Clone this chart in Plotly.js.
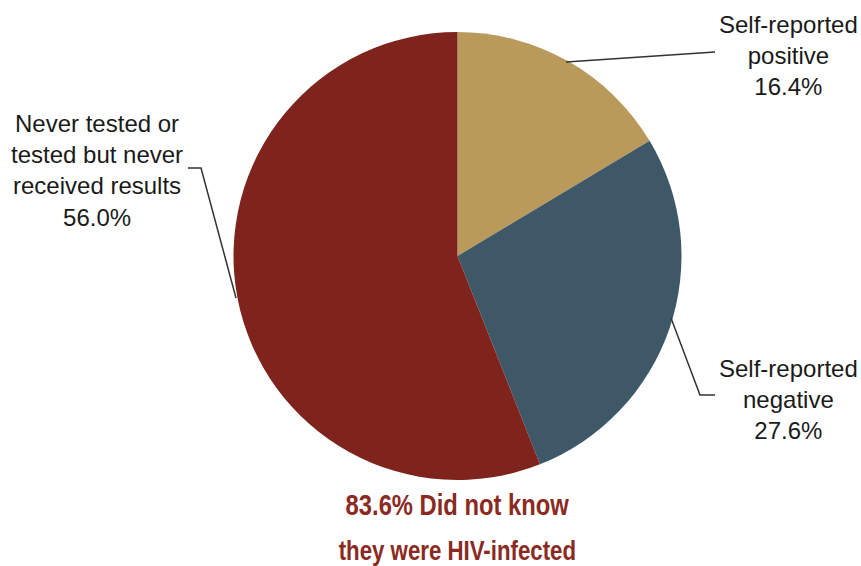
<!DOCTYPE html>
<html>
<head>
<meta charset="utf-8">
<script src="https://cdn.plot.ly/plotly-3.0.1.min.js"></script>
<style>html,body{margin:0;padding:0;background:#fff;}#chart{width:861px;height:566px;}</style>
</head>
<body>
<div id="chart"></div>
<script>
// Data
const categories = ["Self-reported positive", "Self-reported negative", "Never tested or tested but never received results"];
const values = [16.4, 27.6, 56.0];
const labelTexts = ["Self-reported<br>positive<br>16.4%", "Self-reported<br>negative<br>27.6%", "Never tested or<br>tested but never<br>received results<br>56.0%"];
const colors = ["#B99A5B", "#3E5868", "#7E241D"];
const noteLines = ["83.6% Did not know", "they were HIV-infected"];

const W = 861, H = 566;
const px = x => x / W;
const py = y => 1 - y / H;

const trace = {
  type: "pie",
  labels: categories,
  values: values,
  sort: false,
  direction: "clockwise",
  rotation: 0,
  textinfo: "none",
  hoverinfo: "label+percent",
  marker: {colors: colors, line: {width: 0}},
  domain: {x: [px(233), px(682)], y: [py(480), py(32)]},
  showlegend: false
};

const labelFont = {family: "Liberation Sans, Arial, sans-serif", size: 24, color: "#1a1a1a"};
const noteFont1 = {family: "Liberation Sans, Arial, sans-serif", size: 29, color: "#8A2A22", weight: "bold"};
const noteFont2 = {family: "Liberation Sans, Arial, sans-serif", size: 28, color: "#8A2A22", weight: "bold"};

const annotations = [
  {x: px(788), y: py(55), text: labelTexts[0]},
  {x: px(788), y: py(399), text: labelTexts[1]},
  {x: px(97), y: py(170), text: labelTexts[2]}
].map(a => Object.assign(a, {xref: "paper", yref: "paper", xanchor: "center", yanchor: "middle", align: "center", showarrow: false, font: labelFont}));

annotations.push({x: px(457), y: py(505), text: noteLines[0], xref: "paper", yref: "paper", xanchor: "center", yanchor: "middle", showarrow: false, font: noteFont1});
annotations.push({x: px(457), y: py(550), text: noteLines[1], xref: "paper", yref: "paper", xanchor: "center", yanchor: "middle", showarrow: false, font: noteFont2});

const lineStyle = {color: "#333", width: 1.5};
const path = pts => "M " + pts.map(p => px(p[0]) + "," + py(p[1])).join(" L ");
const shapes = [
  {type: "path", xref: "paper", yref: "paper", path: path([[566, 62], [715, 52]]), line: lineStyle},
  {type: "path", xref: "paper", yref: "paper", path: path([[671, 318], [700, 395], [715, 395]]), line: lineStyle},
  {type: "path", xref: "paper", yref: "paper", path: path([[188, 168], [201, 168], [236, 298]]), line: lineStyle}
];

const layout = {
  width: W, height: H,
  margin: {l: 0, r: 0, t: 0, b: 0},
  paper_bgcolor: "#ffffff",
  annotations: annotations,
  shapes: shapes,
  showlegend: false
};

Plotly.newPlot("chart", [trace], layout, {displayModeBar: false, staticPlot: true}).then(gd => {
  // condense the note text horizontally (reference uses a narrow bold face)
  gd.querySelectorAll(".annotation").forEach(g => {
    const idx = +g.getAttribute("data-index");
    if (idx >= 3) {
      const t = g.querySelector(".annotation-text");
      if (t) {
        t.style.transformBox = "fill-box";
        t.style.transformOrigin = "center";
        t.style.transform = idx === 3 ? "scaleX(0.82)" : "scaleX(0.795)";
      }
    }
  });
});
</script>
</body>
</html>
